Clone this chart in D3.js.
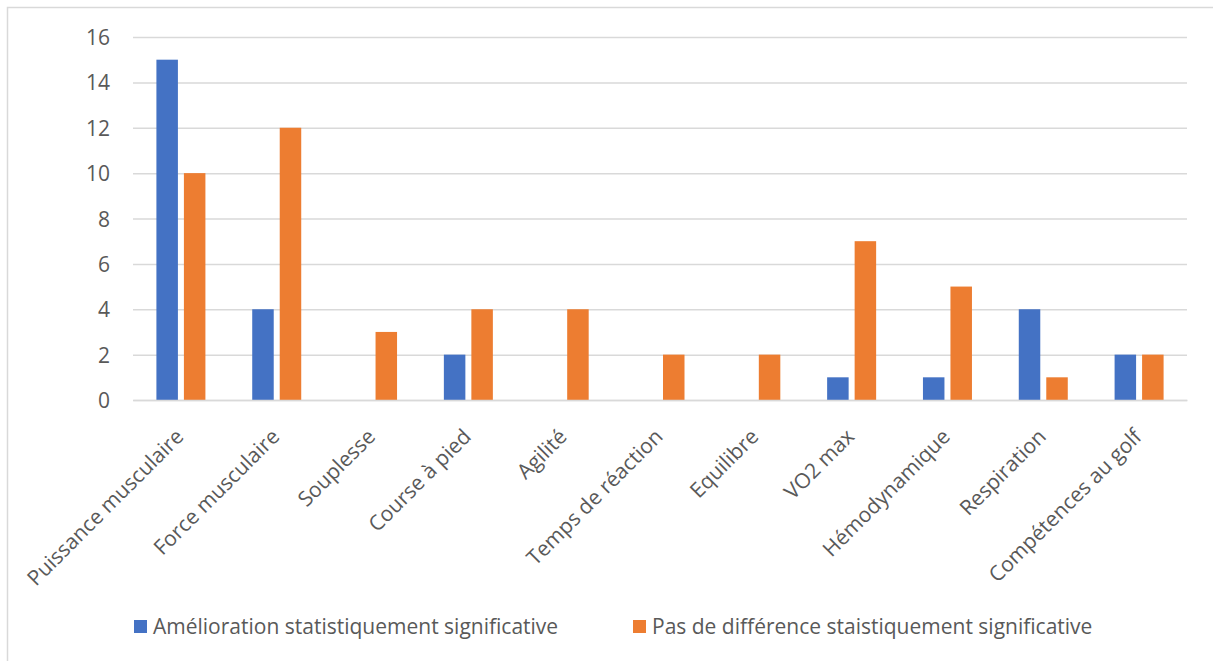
<!DOCTYPE html>
<html><head><meta charset="utf-8">
<script src="https://cdn.jsdelivr.net/npm/d3@7"></script>
<style>
html,body{margin:0;padding:0;background:#fff;}
svg{display:block;}
text{font-family:"Open Sans",sans-serif;fill:#595959;}
</style></head>
<body><svg id="c" width="1213" height="661"></svg>
<script>
const categories = ["Puissance musculaire","Force musculaire","Souplesse","Course à pied","Agilité","Temps de réaction","Equilibre","VO2 max","Hémodynamique","Respiration","Compétences au golf"];
const seriesNames = ["Amélioration statistiquement significative","Pas de différence staistiquement significative"];
const amelioration = [15,4,0,2,0,0,0,1,1,4,2];
const pasDeDifference = [10,12,3,4,4,2,2,7,5,1,2];
const yTicks = [0,2,4,6,8,10,12,14,16];
const colors = ["#4472C4","#ED7D31"];

const svg = d3.select("#c");
// chart border (left/top visible)
svg.append("rect").attr("x",7.5).attr("y",7.5).attr("width",1300).attr("height",700)
  .attr("fill","none").attr("stroke","#d9d9d9").attr("stroke-width",1.5);

const pLeft=133, pRight=1187, pTop=37, pBottom=400;
const x = d3.scaleBand().domain(categories).range([pLeft,pRight]).paddingInner(0).paddingOuter(0);
const y = d3.scaleLinear().domain([0,16]).range([pBottom,pTop]);
const barW = 21.5, gap = 6;

// grid
const yAxis = d3.axisLeft(y).tickValues(yTicks).tickSize(-(pRight-pLeft)).tickPadding(23);
const gy = svg.append("g").attr("transform",`translate(${pLeft},0)`).call(yAxis);
gy.select(".domain").remove();
gy.selectAll(".tick line").attr("stroke","#d9d9d9").attr("stroke-width",1.5);
gy.selectAll(".tick text").style("font-size","21px").attr("fill","#595959").attr("dy","0.36em");

const series = [amelioration, pasDeDifference];
series.forEach((vals,si)=>{
  svg.append("g").selectAll("rect").data(vals).join("rect")
    .attr("x",(d,i)=>x(categories[i]) + x.bandwidth()/2 + (si===0 ? -gap/2-barW : gap/2))
    .attr("width",barW)
    .attr("y",d=>y(d))
    .attr("height",d=>y(0)-y(d))
    .attr("fill",colors[si]);
});

// x axis
const xAxis = d3.axisBottom(x).tickSize(0).tickSizeOuter(0);
const gx = svg.append("g").attr("transform",`translate(0,${pBottom})`).call(xAxis);
gx.select(".domain").attr("stroke","#d9d9d9").attr("stroke-width",1.5);
gx.selectAll(".tick text").style("font-size","21px").attr("fill","#595959")
  .attr("text-anchor","end").attr("dy",null).attr("y",0)
  .attr("transform","translate(4,38) rotate(-45)");

// legend
const legX = [134, 633];
seriesNames.forEach((n,i)=>{
  const g = svg.append("g").attr("transform",`translate(${legX[i]},620)`);
  g.append("rect").attr("width",13).attr("height",13).attr("fill",colors[i]);
  g.append("text").attr("x",19).attr("y",6.5).attr("dy","0.36em").style("font-size","21px").text(n);
});
</script></body></html>
